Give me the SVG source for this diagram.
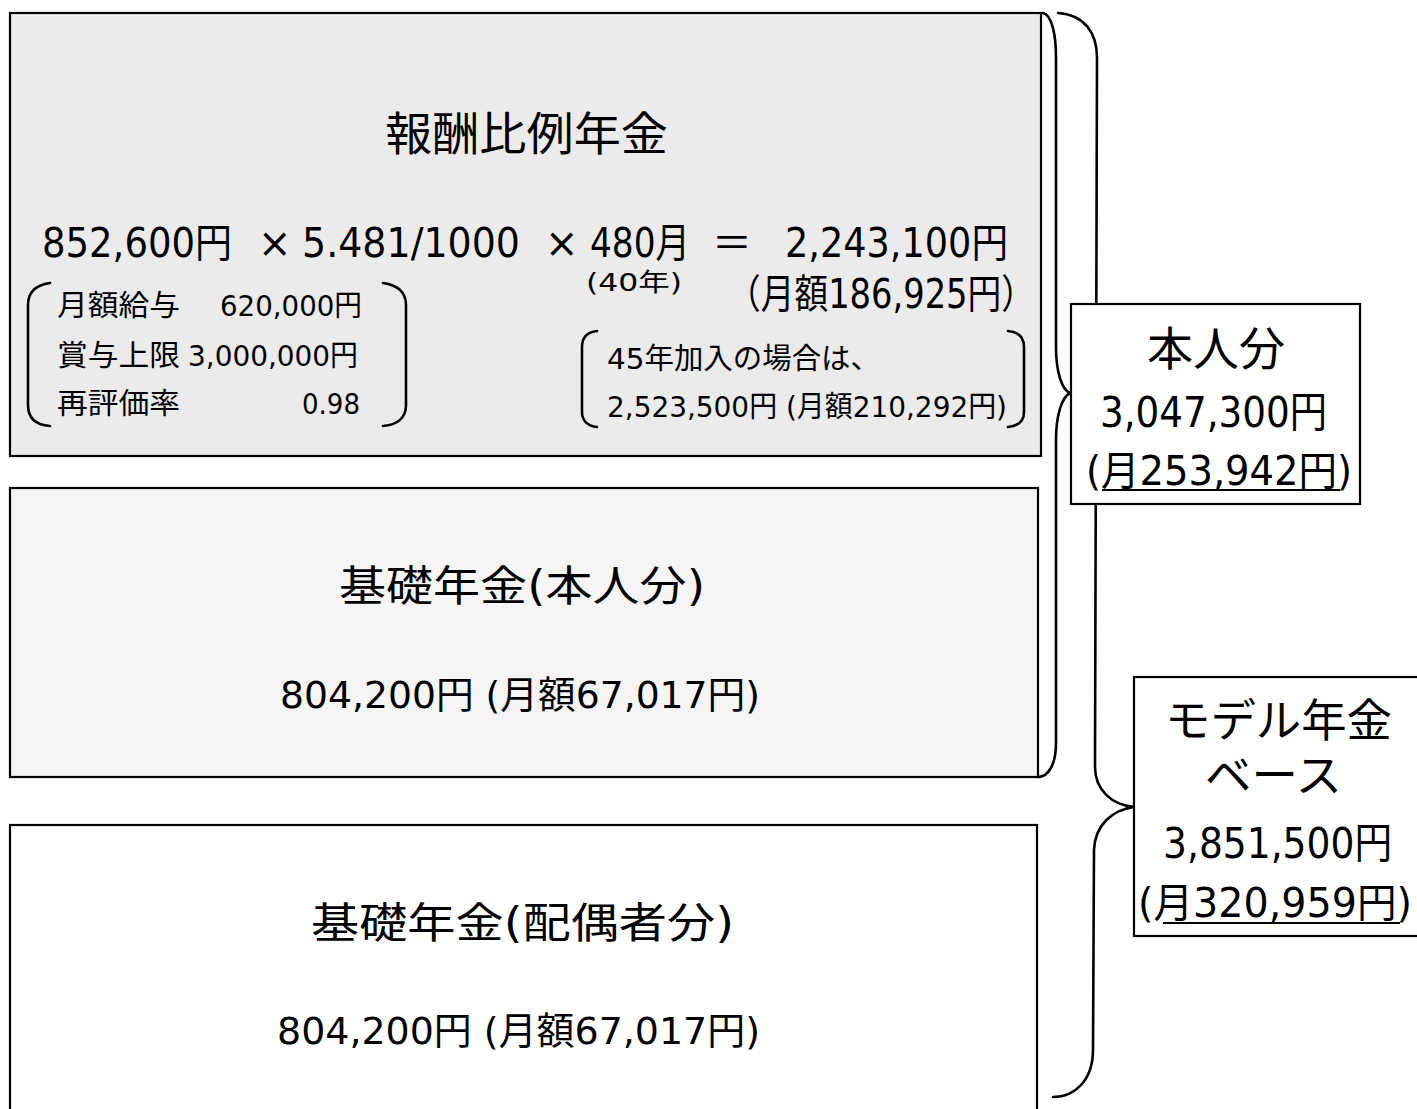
<svg xmlns="http://www.w3.org/2000/svg" width="1417" height="1109" viewBox="0 0 1417 1109">
<style>
text{font-family:"DejaVu Sans","Noto Sans CJK JP",sans-serif;fill:#000}
.box{stroke:#000;stroke-width:2.2}
.br{fill:none;stroke:#000;stroke-width:2.6;stroke-linecap:round}
.ul{stroke:#000;stroke-width:2}
</style>
<rect width="1417" height="1109" fill="#fff"/>
<g id="node-hoshu">
<rect class="box" x="10" y="13" width="1031" height="443" fill="#ebebeb"/>
<text x="385" y="150" font-size="46" textLength="283" lengthAdjust="spacingAndGlyphs">報酬比例年金</text>
<text x="42" y="257" font-size="40" textLength="190" lengthAdjust="spacingAndGlyphs">852,600円</text>
<text x="258" y="257" font-size="40">×</text>
<text x="302" y="257" font-size="40" textLength="218" lengthAdjust="spacingAndGlyphs">5.481/1000</text>
<text x="545" y="257" font-size="40">×</text>
<text x="590" y="257" font-size="40" textLength="100" lengthAdjust="spacingAndGlyphs">480月</text>
<text x="712" y="257" font-size="40" textLength="40" lengthAdjust="spacingAndGlyphs">＝</text>
<text x="785" y="257" font-size="40" textLength="223" lengthAdjust="spacingAndGlyphs">2,243,100円</text>
<text x="586" y="291" font-size="25" textLength="96" lengthAdjust="spacingAndGlyphs">(40年)</text>
<text x="727" y="308" font-size="40" textLength="308" lengthAdjust="spacingAndGlyphs">（月額186,925円）</text>
<path class="br" d="M50,283 C36,285 28,292 28,305 L28,405 C28,418 36,425 50,426"/>
<path class="br" d="M383,283 C397,285 406,292 406,305 L406,405 C406,418 397,425 383,426"/>
<text x="57" y="316" font-size="29" textLength="123" lengthAdjust="spacingAndGlyphs">月額給与</text>
<text x="220" y="316" font-size="29" textLength="142" lengthAdjust="spacingAndGlyphs">620,000円</text>
<text x="57" y="366" font-size="29" textLength="123" lengthAdjust="spacingAndGlyphs">賞与上限</text>
<text x="188" y="366" font-size="29" textLength="170" lengthAdjust="spacingAndGlyphs">3,000,000円</text>
<text x="57" y="414" font-size="29" textLength="123" lengthAdjust="spacingAndGlyphs">再評価率</text>
<text x="302" y="414" font-size="29" textLength="58" lengthAdjust="spacingAndGlyphs">0.98</text>
<path class="br" d="M597,331 C588,332 582,337 582,347 L582,412 C582,421 588,426 597,427"/>
<path class="br" d="M1008,331 C1018,332 1024,337 1024,347 L1024,412 C1024,421 1018,426 1008,427"/>
<text x="607" y="369" font-size="29" textLength="273" lengthAdjust="spacingAndGlyphs">45年加入の場合は、</text>
<text x="607" y="417" font-size="29" textLength="400" lengthAdjust="spacingAndGlyphs">2,523,500円 (月額210,292円)</text>
</g>
<g id="node-kiso-honnin">
<rect class="box" x="10" y="488" width="1028" height="289" fill="#f5f5f5"/>
<text x="339" y="601" font-size="42" textLength="366" lengthAdjust="spacingAndGlyphs">基礎年金(本人分)</text>
<text x="280" y="708" font-size="38" textLength="480" lengthAdjust="spacingAndGlyphs">804,200円 (月額67,017円)</text>
</g>
<g id="node-kiso-haigusha">
<rect class="box" x="10" y="825" width="1027" height="300" fill="#fff"/>
<text x="311" y="938" font-size="42" textLength="423" lengthAdjust="spacingAndGlyphs">基礎年金(配偶者分)</text>
<text x="277" y="1044" font-size="38" textLength="483" lengthAdjust="spacingAndGlyphs">804,200円 (月額67,017円)</text>
</g>
<g id="connectors">
<path class="br" d="M1043,13 C1052,15 1056,35 1056,58 L1056,347 C1056,372 1062,390 1070,393 C1062,397 1056,415 1056,440 L1056,743 C1056,765 1048,777 1038,777"/>
<path class="br" d="M1058,13 C1085,15 1097,33 1097,58 L1095,767 C1095,790 1112,805 1134,807 C1112,810 1095,825 1094,850 L1093,1050 C1093,1080 1075,1097 1053,1097"/>
</g>
<g id="node-honnin">
<rect class="box" x="1071" y="304" width="289" height="200" fill="#fff"/>
<text x="1216" y="365" font-size="46" text-anchor="middle">本人分</text>
<text x="1100" y="427" font-size="42" textLength="227" lengthAdjust="spacingAndGlyphs">3,047,300円</text>
<text x="1086" y="485" font-size="40" textLength="266" lengthAdjust="spacingAndGlyphs">(月253,942円)</text>
<line class="ul" x1="1102" y1="490" x2="1340" y2="490"/>
</g>
<g id="node-model">
<rect class="box" x="1134" y="677" width="300" height="259" fill="#fff"/>
<text x="1165" y="737" font-size="45" textLength="227" lengthAdjust="spacingAndGlyphs">モデル年金</text>
<text x="1205" y="792" font-size="45" textLength="137" lengthAdjust="spacingAndGlyphs">ベース</text>
<text x="1163" y="858" font-size="42" textLength="229" lengthAdjust="spacingAndGlyphs">3,851,500円</text>
<text x="1138" y="917" font-size="40" textLength="274" lengthAdjust="spacingAndGlyphs">(月320,959円)</text>
<line class="ul" x1="1163" y1="923" x2="1400" y2="923"/>
</g>
</svg>
